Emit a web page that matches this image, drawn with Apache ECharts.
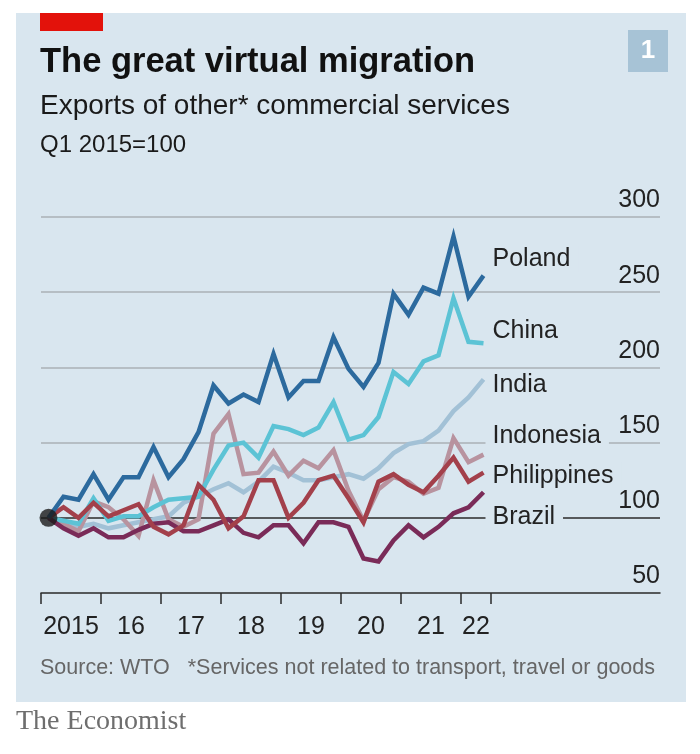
<!DOCTYPE html>
<html>
<head>
<meta charset="utf-8">
<script src="https://cdn.jsdelivr.net/npm/echarts@6/dist/echarts.min.js"></script>
<style>html,body{margin:0;padding:0;background:#fff}#c{width:700px;height:754px}</style>
</head>
<body>
<div id="c"></div>
<script>
// ---- data (Q1 2015 = 100), quarterly Q1 2015 .. Q2 2022 ----
const seriesNames = ['Poland','China','India','Indonesia','Philippines','Brazil'];
const poland      = [100,114,112,129,112,127,127,147,127,139,157,188,176,182,177,209,180,191,191,220,199,187,203,249,235,253,249,287,247,261];
const china       = [100,98,96,113,98,101,101,107,112,113,114,132,148,150,140,161,159,155,160,177,152,155,167,197,189,204,208,246,217,216];
const india       = [100,97,94,96,93,95,97,99,101,110,114,119,123,117,124,134,130,125,125,127,129,126,133,143,149,151,158,171,180,192];
const indonesia   = [100,96,91,111,107,99,88,125,99,94,99,156,169,129,130,144,128,138,133,145,118,98,119,127,124,116,120,153,137,142];
const philippines = [100,107,100,110,101,105,109,94,89,95,122,112,93,101,125,125,100,110,125,128,113,97,124,129,122,117,128,140,124,130];
const brazil      = [100,93,88,93,87,87,92,96,97,91,91,95,99,90,87,95,95,83,97,97,94,73,71,85,95,87,94,103,107,117];
const yearLabels  = ['2015','16','17','18','19','20','21','22'];
const yTicks      = [50,100,150,200,250,300];

const FONT = "'Liberation Sans', Arial, sans-serif";
const PANEL = '#d9e6ef';
const nQ = poland.length;
// x in quarter units, point at middle of each quarter
const toXY = arr => arr.map((v,i)=>[i+0.5, v]);
// year boundaries (ticks) and label positions (middle of the covered quarters)
const tickVals = [];
const labelVals = [];
for (let y=0; y<yearLabels.length; y++){
  const start = y*4, end = Math.min(nQ, start+4);
  tickVals.push(start);
  labelVals.push((start+end)/2);
}
tickVals.push(nQ);

const colors = {
  Poland:'#2c6a9e', China:'#5cc3d5', India:'#a2c1d6',
  Indonesia:'#b8939f', Philippines:'#a3404b', Brazil:'#7a2b58'
};
const labelOffset = {Poland:-17, China:-12, India:6, Indonesia:-19, Philippines:3, Brazil:25};
const dataMap = {Poland:poland, China:china, India:india, Indonesia:indonesia, Philippines:philippines, Brazil:brazil};
const drawOrder = ['India','Indonesia','China','Brazil','Philippines','Poland'];

const series = drawOrder.map(name => ({
  name, type:'line', data: toXY(dataMap[name]), symbol:'none', silent:true,
  lineStyle:{color:colors[name], width:4.5, join:'miter'},
  z: 3,
  endLabel:{show:true, formatter:name, color:'#222', fontFamily:FONT, fontSize:25,
    distance:2, offset:[0,labelOffset[name]], backgroundColor:PANEL, padding:[1,8,1,7]}
}));
series.push({type:'scatter', data:[[0.5, poland[0]]], symbolSize:18, itemStyle:{color:'#1a1a1a'}, z:5, silent:true});

const chart = echarts.init(document.getElementById('c'), null, {renderer:'canvas'});
chart.setOption({
  backgroundColor:'#ffffff',
  animation:false,
  grid:{left:41, right:40, top:217, bottom:161, containLabel:false},
  xAxis:{
    type:'value', min:0, max:(660-41)/15,
    axisLine:{show:true, lineStyle:{color:'#2a2a2a', width:1.5}},
    axisTick:{show:true, customValues:tickVals, length:11, lineStyle:{color:'#2a2a2a', width:1.5}},
    axisLabel:{show:true, customValues:labelVals, margin:22, color:'#222', fontFamily:FONT, fontSize:25,
      formatter:v=>{const k=labelVals.findIndex(p=>Math.abs(p-v)<1e-6); return k>=0?yearLabels[k]:'';}},
    splitLine:{show:false}
  },
  yAxis:{
    type:'value', position:'right', min:yTicks[0], max:yTicks[yTicks.length-1], interval:50,
    axisLine:{show:false}, axisTick:{show:false},
    axisLabel:{inside:true, margin:0, verticalAlign:'bottom', padding:[0,0,4,0], color:'#222', fontFamily:FONT, fontSize:25},
    splitLine:{show:true, lineStyle:{color:['transparent','#2a2a2a','#aab1b6','#aab1b6','#aab1b6','#aab1b6'], width:1.6}}
  },
  graphic:[
    {type:'rect', z:-10, silent:true, shape:{x:16,y:13,width:670,height:689}, style:{fill:PANEL}},
    {type:'rect', silent:true, shape:{x:40,y:13,width:63,height:18}, style:{fill:'#e3120b'}},
    {type:'rect', silent:true, shape:{x:628,y:30,width:40,height:42}, style:{fill:'#a7c3d6'}},
    {type:'text', silent:true, x:648, y:51, style:{text:'1', fill:'#ffffff', font:'bold 26px '+FONT, align:'center', verticalAlign:'middle'}},
    {type:'text', silent:true, x:40, y:62, style:{text:'The great virtual migration', fill:'#111111', font:'bold 34.5px '+FONT, verticalAlign:'middle'}},
    {type:'text', silent:true, x:40, y:106, style:{text:'Exports of other* commercial services', fill:'#1a1a1a', font:'28px '+FONT, verticalAlign:'middle'}},
    {type:'text', silent:true, x:40, y:145, style:{text:'Q1 2015=100', fill:'#1a1a1a', font:'24px '+FONT, verticalAlign:'middle'}},
    {type:'text', silent:true, x:40, y:668, style:{text:'Source: WTO   *Services not related to transport, travel or goods', fill:'#666666', font:'21.5px '+FONT, verticalAlign:'middle'}},
    {type:'text', silent:true, x:16, y:722, style:{text:'The Economist', fill:'#6e6e6e', font:"28px 'Liberation Serif', 'DejaVu Serif', serif", verticalAlign:'middle'}}
  ],
  series
});
</script>
</body>
</html>
